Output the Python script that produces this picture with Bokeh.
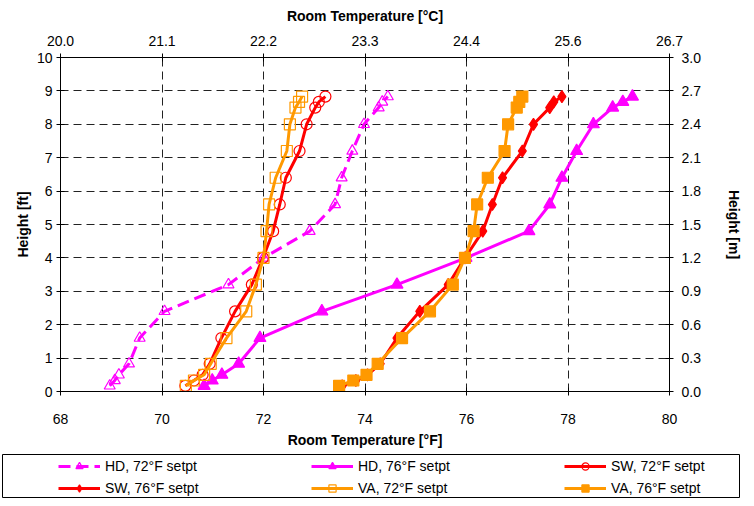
from bokeh.plotting import figure
from bokeh.models import Range1d, LinearAxis, Legend, LegendItem, FixedTicker
from bokeh.embed import file_html
from bokeh.resources import INLINE

# Heights [ft]
height_ft = [0.17, 0.33, 0.5, 0.83, 1.6, 2.4, 3.2, 4.0, 4.8, 5.6, 6.4, 7.2, 8.0, 8.5, 8.67, 8.83]
# Room temperatures [F]
hd72 = [68.97, 69.07, 69.15, 69.35, 69.56, 70.05, 71.31, 72.0, 72.91, 73.41, 73.54, 73.75, 73.98, 74.27, 74.34, 74.45]
hd76 = [70.83, 70.99, 71.18, 71.51, 71.93, 73.15, 74.63, 75.99, 77.23, 77.64, 77.88, 78.17, 78.5, 78.88, 79.08, 79.27]
sw72 = [70.46, 70.63, 70.8, 70.94, 71.17, 71.44, 71.77, 71.99, 72.19, 72.32, 72.44, 72.71, 72.85, 73.02, 73.09, 73.22]
sw76 = [73.55, 73.82, 74.05, 74.3, 74.63, 75.08, 75.64, 75.97, 76.32, 76.51, 76.71, 77.10, 77.32, 77.64, 77.72, 77.88]
va72 = [70.47, 70.63, 70.83, 70.96, 71.27, 71.66, 71.85, 72.0, 72.06, 72.11, 72.24, 72.46, 72.52, 72.63, 72.70, 72.76]
va76 = [73.49, 73.77, 74.03, 74.25, 74.73, 75.28, 75.73, 75.97, 76.14, 76.21, 76.42, 76.75, 76.82, 76.99, 77.04, 77.10]

series_names = ["HD, 72°F setpt", "HD, 76°F setpt", "SW, 72°F setpt",
                "SW, 76°F setpt", "VA, 72°F setpt", "VA, 76°F setpt"]

f_ticks = [68, 70, 72, 74, 76, 78, 80]
c_labels = ["20.0", "21.1", "22.2", "23.3", "24.4", "25.6", "26.7"]
ft_ticks = [0, 1, 2, 3, 4, 5, 6, 7, 8, 9, 10]
m_labels = ["0.0", "0.3", "0.6", "0.9", "1.2", "1.5", "1.8", "2.1", "2.4", "2.7", "3.0"]

FONT = "Liberation Sans"

p = figure(width=744, height=452, output_backend="svg", toolbar_location=None,
           x_range=Range1d(68, 80), y_range=Range1d(0, 10),
           min_border_left=60, min_border_right=68, min_border_top=57,
           min_border_bottom=61)
p.background_fill_color = "white"
p.border_fill_color = "white"
p.outline_line_color = "black"
p.outline_line_width = 1

p.extra_x_ranges = {"c": Range1d(68, 80)}
p.extra_y_ranges = {"m": Range1d(0, 10)}

bottom_axis = p.below[0]
left_axis = p.left[0]
top_axis = LinearAxis(x_range_name="c")
right_axis = LinearAxis(y_range_name="m")
p.add_layout(top_axis, "above")
p.add_layout(right_axis, "right")

bottom_axis.ticker = FixedTicker(ticks=f_ticks)
left_axis.ticker = FixedTicker(ticks=ft_ticks)
top_axis.ticker = FixedTicker(ticks=f_ticks)
top_axis.major_label_overrides = {t: l for t, l in zip(f_ticks, c_labels)}
right_axis.ticker = FixedTicker(ticks=ft_ticks)
right_axis.major_label_overrides = {t: l for t, l in zip(ft_ticks, m_labels)}

bottom_axis.axis_label = "Room Temperature [°F]"
top_axis.axis_label = "Room Temperature [°C]"
left_axis.axis_label = "Height [ft]"
right_axis.axis_label = "Height [m]"

for ax in [bottom_axis, left_axis, top_axis, right_axis]:
    ax.axis_line_color = "black"
    ax.major_tick_line_color = "black"
    ax.major_tick_in = 4
    ax.major_tick_out = 4
    ax.minor_tick_line_color = None
    ax.major_label_text_font = FONT
    ax.major_label_text_font_size = "14px"
    ax.major_label_text_color = "black"
    ax.axis_label_text_font = FONT
    ax.axis_label_text_font_size = "14px"
    ax.axis_label_text_font_style = "bold"
    ax.axis_label_text_color = "black"

bottom_axis.major_label_standoff = 18
bottom_axis.axis_label_standoff = 5
top_axis.major_label_standoff = 8
top_axis.axis_label_standoff = 9
left_axis.major_label_standoff = 4
left_axis.axis_label_standoff = 3
right_axis.major_label_standoff = 8
right_axis.axis_label_standoff = 22

for g in [p.xgrid[0], p.ygrid[0]]:
    g.grid_line_color = "#222222"
    g.grid_line_dash = "8 5"
    g.grid_line_width = 1
p.xgrid[0].ticker = FixedTicker(ticks=[70, 72, 74, 76, 78])
p.ygrid[0].ticker = FixedTicker(ticks=[1, 2, 3, 4, 5, 6, 7, 8, 9])

MAG = "#FF00FF"
RED = "#FF0000"
ORG = "#FF9900"

specs = [
    (hd72, MAG, "triangle", False, 11, "12 6"),
    (hd76, MAG, "triangle", True, 12, "solid"),
    (sw72, RED, "circle", False, 11, "solid"),
    (sw76, RED, "diamond", True, 12, "solid"),
    (va72, ORG, "square", False, 11, "solid"),
    (va76, ORG, "square", True, 11, "solid"),
]

for (xs, col, mk, filled, sz, dash) in specs:
    p.line(xs, height_ft, line_color=col, line_width=3, line_dash=dash)
    p.scatter(xs, height_ft, marker=mk, size=sz, line_color=col,
              line_width=1.2,
              fill_color=col if filled else None,
              fill_alpha=1.0 if filled else 0.0)

# Legend panel (separate figure whose outline is the legend frame)
lg = figure(width=740, height=46, output_backend="svg", toolbar_location=None,
            x_range=Range1d(0, 1), y_range=Range1d(0, 1),
            x_axis_location=None, y_axis_location=None,
            min_border_left=2, min_border_right=0, min_border_top=2,
            min_border_bottom=0)
lg.outline_line_color = "black"
lg.outline_line_width = 1
for g in lg.grid:
    g.visible = False

items = {}
for (xs, col, mk, filled, sz, dash), name in zip(specs, series_names):
    ln = lg.line([-5, -4], [-5, -4], line_color=col, line_width=3, line_dash=dash)
    sc = lg.scatter([-5], [-5], marker=mk, size=sz, line_color=col, line_width=1.2,
                    fill_color=col if filled else None,
                    fill_alpha=1.0 if filled else 0.0)
    items[name] = LegendItem(label=name, renderers=[ln, sc])

# column-major filling: reorder so rows read like the reference
order = [0, 3, 1, 4, 2, 5]
legend = Legend(items=[items[series_names[i]] for i in order], ncols=3,
                location=(56, 1),
                glyph_width=42, glyph_height=18, label_height=18,
                label_width=202, label_standoff=5, spacing=4, padding=0,
                margin=0, border_line_alpha=0, background_fill_alpha=0,
                label_text_font=FONT, label_text_font_size="14px",
                label_text_color="black")
lg.add_layout(legend, "center")

open("out.html", "w").write(file_html([p, lg], INLINE))
